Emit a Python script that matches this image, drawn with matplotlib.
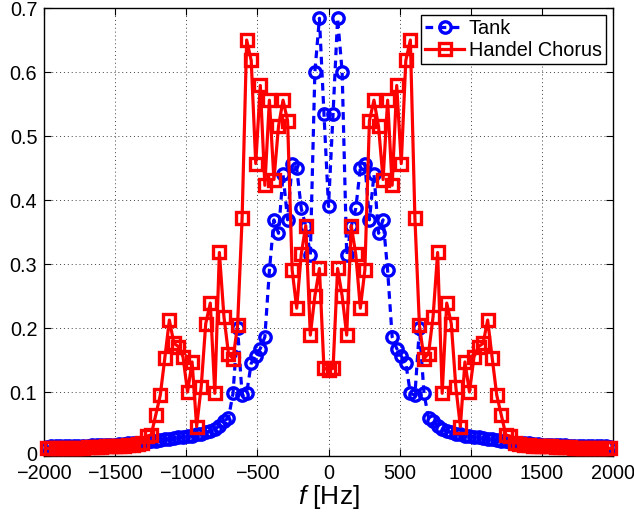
import numpy as np
import matplotlib
matplotlib.use('Agg')
import matplotlib.pyplot as plt
from matplotlib.transforms import ScaledTranslation

plt.rcParams['font.family'] = ['Liberation Sans', 'DejaVu Sans']
plt.rcParams['mathtext.fontset'] = 'custom'
plt.rcParams['mathtext.it'] = 'Liberation Sans:italic'
plt.rcParams['mathtext.rm'] = 'Liberation Sans'

# FFT bins, 32 Hz apart, bin 0 .. 62 (spectrum is symmetric)
df = 32
bins = np.arange(-62, 63)

# magnitude, bin 0 .. 62
tank_half = [0.39, 0.535, 0.684, 0.60, 0.314, 0.359, 0.387, 0.45, 0.457, 0.369,
             0.44, 0.348, 0.369, 0.29, 0.186, 0.168, 0.156, 0.145, 0.098, 0.095,
             0.20, 0.098, 0.059, 0.055, 0.047, 0.042, 0.039, 0.037, 0.035, 0.034,
             0.032, 0.031, 0.030, 0.029, 0.028, 0.027, 0.026, 0.025, 0.024, 0.023,
             0.022, 0.021, 0.021, 0.020, 0.020, 0.019, 0.019, 0.018, 0.018, 0.018,
             0.017, 0.017, 0.017, 0.016, 0.016, 0.016, 0.016, 0.015, 0.015, 0.015,
             0.015, 0.015, 0.014]
handel_half = [0.135, 0.137, 0.293, 0.25, 0.189, 0.36, 0.315, 0.231, 0.291, 0.524,
               0.556, 0.515, 0.432, 0.556, 0.423, 0.579, 0.457, 0.618, 0.65, 0.372,
               0.204, 0.152, 0.16, 0.218, 0.318, 0.098, 0.239, 0.207, 0.108, 0.046,
               0.147, 0.10, 0.155, 0.171, 0.176, 0.2125, 0.153, 0.095, 0.064, 0.033,
               0.031, 0.021, 0.019, 0.018, 0.017, 0.016, 0.016, 0.015, 0.015, 0.015,
               0.014, 0.014, 0.014, 0.014, 0.013, 0.013, 0.013, 0.013, 0.013, 0.012,
               0.012, 0.012, 0.012]

freq = bins * df
tank = np.array(tank_half[:0:-1] + tank_half)
handel = np.array(handel_half[:0:-1] + handel_half)

fig = plt.figure(figsize=(6.34, 5.14), dpi=100)
ax = fig.add_axes([0.0699, 0.1128, 0.8965, 0.8716])

ax.plot(freq, tank, color='#0000ff', linestyle=(0, (2.4, 1.7)), linewidth=2.3,
        marker='o', markersize=8.2, markerfacecolor='none', markeredgewidth=2.4,
        label='Tank', clip_on=False, zorder=3)
ax.plot(freq, handel, color='#ff0000', linestyle='-', linewidth=2.3,
        marker='s', markersize=8.0, markerfacecolor='none', markeredgewidth=2.4,
        label='Handel Chorus', clip_on=False, zorder=4)

ax.set_xlim(-2000, 2000)
ax.set_ylim(0, 0.7)
ax.set_xticks(np.arange(-2000, 2001, 500))
ax.set_yticks(np.arange(0, 0.71, 0.1))
ax.set_yticklabels(['0', '0.1', '0.2', '0.3', '0.4', '0.5', '0.6', '0.7'])

ax.grid(True, color='0.25', linestyle=(0, (1, 3)), linewidth=0.7)
ax.tick_params(direction='in', length=5, width=0.8, top=True, right=True,
               labelsize=14.3)
ax.tick_params(axis='x', pad=6)
ax.tick_params(axis='y', pad=5)
for s in ax.spines.values():
    s.set_linewidth(1)

# nudge the "0" on y up a little so it does not sit on "-2000"
lab0 = ax.get_yticklabels()[0]
lab0.set_transform(lab0.get_transform() + ScaledTranslation(0, 3 / 100, fig.dpi_scale_trans))

ax.set_xlabel(r'$f$ [Hz]', fontsize=19, labelpad=0)

leg = ax.legend(loc='upper right', fontsize=14.3, fancybox=False, framealpha=1,
                edgecolor='black', handlelength=1.95, handletextpad=0.25,
                borderpad=0.2, labelspacing=0.15, borderaxespad=0.34)
leg.get_frame().set_linewidth(1)

fig.savefig('out.png', dpi=100)
